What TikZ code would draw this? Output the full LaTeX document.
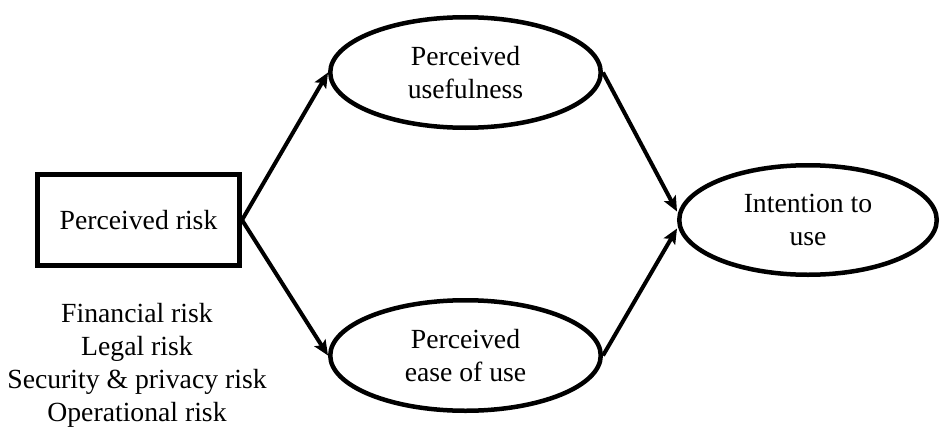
\documentclass[tikz,border=0pt]{standalone}
\usepackage{fontspec}
\setmainfont{Liberation Serif}
\usetikzlibrary{shapes.geometric,arrows.meta,calc}

\begin{document}
\begin{tikzpicture}[x=1pt,y=-1pt,
  lbl/.style={font=\fontsize{27.7}{33.5}\selectfont, align=center},
  risklist/.style={font=\fontsize{27.7}{33}\selectfont, align=center},
  riskbox/.style={lbl, draw, line width=5pt, minimum width=202pt,
                  minimum height=91pt, inner sep=0pt},
  construct/.style={lbl, ellipse, draw, line width=4.5pt, inner sep=0pt},
  link/.style={line width=4pt, -{Stealth[length=15pt,width=13pt,inset=3pt]}}
]
\useasboundingbox (0,0) rectangle (941,428);

% exogenous construct and its dimensions
\node[riskbox] (pr) at (138.5,220) {Perceived risk};
\node[risklist, anchor=north, inner sep=0pt] (risks) at (137,303)
  {Financial risk\\Legal risk\\Security \& privacy risk\\Operational risk};

% mediating constructs
\node[construct, minimum width=270.5pt, minimum height=110.5pt] (pu)
  at (465.5,72.5) {Perceived\\usefulness};
\node[construct, minimum width=270.5pt, minimum height=110.5pt] (pe)
  at (465.5,355.5) {Perceived\\ease of use};

% outcome
\node[construct, minimum width=257.5pt, minimum height=109.5pt] (iu)
  at (808,220) {Intention to\\use};

% arrow ends on the outcome ellipse, just above and below its west point
\coordinate (iuA) at ($(iu.west)+(0,-8.5)$);
\coordinate (iuB) at ($(iu.west)+(0,8.5)$);

\draw[link] (pr.east) -- (pu.west);
\draw[link] (pr.east) -- (pe.west);
\draw[link] (pu.east) -- (iuA);
\draw[link] (pe.east) -- (iuB);
\end{tikzpicture}
\end{document}
